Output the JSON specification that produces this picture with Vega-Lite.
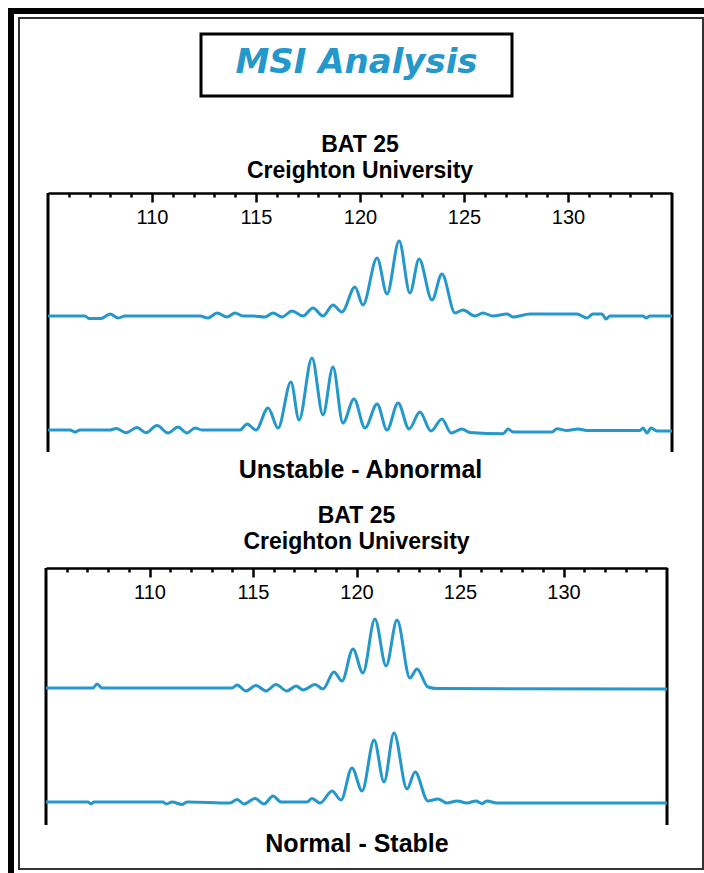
{
  "$schema": "https://vega.github.io/schema/vega-lite/v6.json",
  "background": "white",
  "padding": {"left": 8, "top": 8, "right": 0, "bottom": 0},
  "config": {"view": {"stroke": null}, "concat": {"spacing": 0}},
  "datasets": {
    "p1a": [
      {"bp":105.00,"signal":0},{"bp":106.63,"signal":0},{"bp":106.78,"signal":0},{"bp":106.97,"signal":-2.5},{"bp":107.55,"signal":-2.5},{"bp":107.98,"signal":2},{"bp":108.37,"signal":-2},{"bp":108.70,"signal":0},{"bp":112.31,"signal":0},{"bp":112.69,"signal":-2},{"bp":113.13,"signal":3},{"bp":113.61,"signal":-1},{"bp":113.99,"signal":3},{"bp":114.38,"signal":0},{"bp":114.86,"signal":0},{"bp":115.43,"signal":-1},{"bp":115.82,"signal":3},{"bp":116.25,"signal":-1},{"bp":116.73,"signal":5},{"bp":117.26,"signal":0},{"bp":117.74,"signal":8},{"bp":118.22,"signal":0},{"bp":118.70,"signal":11},{"bp":119.13,"signal":4},{"bp":119.76,"signal":29},{"bp":120.14,"signal":11},{"bp":120.82,"signal":58},{"bp":121.30,"signal":22},{"bp":121.88,"signal":75},{"bp":122.40,"signal":23},{"bp":122.84,"signal":57},{"bp":123.46,"signal":16},{"bp":123.94,"signal":42},{"bp":124.57,"signal":3},{"bp":124.95,"signal":6},{"bp":125.53,"signal":0},{"bp":125.91,"signal":3},{"bp":126.39,"signal":0},{"bp":127.07,"signal":2},{"bp":127.36,"signal":-1},{"bp":128.17,"signal":2},{"bp":130.43,"signal":2},{"bp":130.91,"signal":-2},{"bp":131.20,"signal":2},{"bp":131.63,"signal":2},{"bp":131.83,"signal":-3},{"bp":132.02,"signal":0},{"bp":133.61,"signal":0},{"bp":133.75,"signal":-2},{"bp":133.94,"signal":0},{"bp":135.00,"signal":0}
    ],
    "p1b": [
      {"bp":105.00,"signal":0},{"bp":106.06,"signal":0},{"bp":106.30,"signal":-2},{"bp":106.54,"signal":0},{"bp":107.98,"signal":0},{"bp":108.27,"signal":1.5},{"bp":108.75,"signal":-2.7},{"bp":109.28,"signal":2.5},{"bp":109.71,"signal":-2.7},{"bp":110.24,"signal":4.5},{"bp":110.77,"signal":-3},{"bp":111.25,"signal":3},{"bp":111.68,"signal":-3},{"bp":112.07,"signal":2},{"bp":112.40,"signal":0},{"bp":114.23,"signal":0},{"bp":114.57,"signal":6},{"bp":115.00,"signal":0},{"bp":115.58,"signal":22},{"bp":116.06,"signal":2},{"bp":116.68,"signal":48},{"bp":117.07,"signal":10},{"bp":117.69,"signal":72},{"bp":118.22,"signal":15},{"bp":118.70,"signal":63},{"bp":119.18,"signal":7},{"bp":119.71,"signal":31},{"bp":120.24,"signal":2},{"bp":120.82,"signal":26},{"bp":121.30,"signal":0},{"bp":121.83,"signal":27},{"bp":122.36,"signal":1},{"bp":122.88,"signal":18},{"bp":123.41,"signal":-1},{"bp":123.94,"signal":11},{"bp":124.38,"signal":-3},{"bp":124.90,"signal":1},{"bp":125.29,"signal":-2.5},{"bp":126.88,"signal":-3.7},{"bp":127.12,"signal":1},{"bp":127.36,"signal":-2},{"bp":129.23,"signal":-2},{"bp":129.47,"signal":1.3},{"bp":129.95,"signal":-0.5},{"bp":130.48,"signal":1},{"bp":130.91,"signal":-0.5},{"bp":133.46,"signal":-0.5},{"bp":133.61,"signal":2},{"bp":133.80,"signal":-3},{"bp":133.99,"signal":2},{"bp":134.28,"signal":-1},{"bp":135.00,"signal":-1}
    ],
    "p2a": [
      {"bp":105.00,"signal":0},{"bp":107.27,"signal":0},{"bp":107.46,"signal":4},{"bp":107.71,"signal":0},{"bp":113.99,"signal":0},{"bp":114.23,"signal":3},{"bp":114.66,"signal":-3},{"bp":115.14,"signal":2.5},{"bp":115.63,"signal":-3},{"bp":116.11,"signal":3.5},{"bp":116.64,"signal":-3},{"bp":117.08,"signal":2},{"bp":117.42,"signal":-2},{"bp":118.00,"signal":3.5},{"bp":118.38,"signal":-1},{"bp":118.91,"signal":16},{"bp":119.30,"signal":7},{"bp":119.83,"signal":39},{"bp":120.31,"signal":15},{"bp":120.89,"signal":69},{"bp":121.43,"signal":22},{"bp":121.96,"signal":68},{"bp":122.58,"signal":10},{"bp":122.92,"signal":19},{"bp":123.45,"signal":1},{"bp":123.89,"signal":-0.5},{"bp":135.00,"signal":-1}
    ],
    "p2b": [
      {"bp":105.00,"signal":0},{"bp":107.03,"signal":0},{"bp":107.17,"signal":-2},{"bp":107.32,"signal":0},{"bp":110.65,"signal":0},{"bp":110.80,"signal":-2},{"bp":111.09,"signal":0},{"bp":111.57,"signal":-2.5},{"bp":111.81,"signal":0},{"bp":113.89,"signal":-1},{"bp":114.23,"signal":2.5},{"bp":114.57,"signal":-2},{"bp":115.10,"signal":3.5},{"bp":115.53,"signal":-2},{"bp":115.97,"signal":6},{"bp":116.35,"signal":0},{"bp":117.61,"signal":0},{"bp":117.85,"signal":3.5},{"bp":118.24,"signal":-1},{"bp":118.82,"signal":11},{"bp":119.25,"signal":2},{"bp":119.78,"signal":34},{"bp":120.27,"signal":11},{"bp":120.85,"signal":62},{"bp":121.33,"signal":20},{"bp":121.81,"signal":69},{"bp":122.44,"signal":13},{"bp":122.83,"signal":30},{"bp":123.45,"signal":1},{"bp":123.94,"signal":3},{"bp":124.37,"signal":-1},{"bp":124.86,"signal":1},{"bp":125.34,"signal":-1},{"bp":125.77,"signal":1},{"bp":126.06,"signal":-1.5},{"bp":126.30,"signal":1},{"bp":126.78,"signal":-1},{"bp":134.90,"signal":-1},{"bp":135.00,"signal":-1}
    ],
    "edges": [{"bp":105},{"bp":135}]
  },
  "hconcat": [
    {"width": 6, "height": 865, "data": {"values": [{}]}, "mark": {"type": "rect", "color": "black"}, "encoding": {}},
    {
      "vconcat": [
        {"width": 690, "height": 6, "data": {"values": [{}]}, "mark": {"type": "rect", "color": "black"}, "encoding": {}},
        {
          "hconcat": [
            {"width": 4, "height": 1, "data": {"values": [{}]}, "mark": {"type": "rect", "opacity": 0}, "encoding": {}},
            {
              "vconcat": [
                {"width": 686, "height": 2, "data": {"values": [{}]}, "mark": {"type": "rect", "color": "#333333"}, "encoding": {}},
                {
                  "hconcat": [
                    {"width": 2, "height": 849, "data": {"values": [{}]}, "mark": {"type": "rect", "color": "#333333"}, "encoding": {}},
                    {
                      "vconcat": [
                        {"width": 673, "height": 15, "data": {"values": [{}]}, "mark": {"type": "rect", "opacity": 0}, "encoding": {}},
                        {
                          "width": 311, "height": 62,
                          "view": {"stroke": "black", "strokeWidth": 3},
                          "data": {"values": [{"t": "MSI Analysis"}]},
                          "mark": {"type": "text", "font": "DejaVu Sans", "fontSize": 34, "fontWeight": "bold", "fontStyle": "italic", "color": "#2497cb", "align": "center", "baseline": "middle", "dy": -2},
                          "encoding": {"text": {"field": "t", "type": "nominal"}}
                        },
                        {"width": 673, "height": 97, "data": {"values": [{}]}, "mark": {"type": "rect", "opacity": 0}, "encoding": {}},
                        {
                          "width": 673, "height": 259,
                          "title": {"text": ["BAT 25", "Creighton University"], "font": "Liberation Sans", "fontSize": 23, "fontWeight": "bold", "color": "black", "lineHeight": 26, "offset": 9, "anchor": "middle", "dx": 3.5},
                          "layer": [
                            {
                              "data": {"name": "edges"},
                              "mark": {"type": "rule", "color": "black", "strokeWidth": 3},
                              "encoding": {
                                "x": {"field": "bp", "type": "quantitative",
                                  "scale": {"domain": [105, 135], "range": [28, 652], "nice": false, "zero": false},
                                  "axis": {"orient": "top", "title": null, "grid": false,
                                    "values": [106,107,108,109,110,111,112,113,114,115,116,117,118,119,120,121,122,123,124,125,126,127,128,129,130,131,132,133,134],
                                    "labelExpr": "datum.value % 5 === 0 ? datum.label : ''",
                                    "tickSize": {"condition": {"test": "datum.value % 5 === 0", "value": -9}, "value": -4},
                                    "tickWidth": 2.5, "tickColor": "black",
                                    "domainColor": "black", "domainWidth": 2.5,
                                    "labelFont": "Liberation Sans", "labelFontSize": 20, "labelColor": "black",
                                    "labelPadding": -21, "labelBaseline": "alphabetic", "labelOverlap": false, "labelFlush": false}
                                }
                              }
                            },
                            {
                              "data": {"name": "p1a"},
                              "mark": {"type": "line", "interpolate": "monotone", "color": "#2497cb", "strokeWidth": 3},
                              "encoding": {
                                "x": {"field": "bp", "type": "quantitative", "axis": null},
                                "y": {"field": "signal", "type": "quantitative", "scale": {"domain": [-136, 123], "nice": false, "zero": false}, "axis": null}
                              }
                            },
                            {
                              "data": {"name": "p1b"},
                              "mark": {"type": "line", "interpolate": "monotone", "color": "#2497cb", "strokeWidth": 3},
                              "encoding": {
                                "x": {"field": "bp", "type": "quantitative",
                                  "axis": {"orient": "bottom", "domain": false, "ticks": false, "labels": false, "grid": false,
                                    "title": "Unstable - Abnormal", "titleFont": "Liberation Sans", "titleFontSize": 25, "titleFontWeight": "bold", "titleColor": "black", "titlePadding": 5}},
                                "y": {"field": "signal", "type": "quantitative", "scale": {"domain": [-22, 237], "nice": false, "zero": false}, "axis": null}
                              }
                            }
                          ],
                          "resolve": {"scale": {"y": "independent"}, "axis": {"x": "independent"}}
                        },
                        {"width": 673, "height": 116, "data": {"values": [{}]}, "mark": {"type": "rect", "opacity": 0}, "encoding": {}},
                        {
                          "width": 673, "height": 257,
                          "title": {"text": ["BAT 25", "Creighton University"], "font": "Liberation Sans", "fontSize": 23, "fontWeight": "bold", "color": "black", "lineHeight": 26, "offset": 12.5, "anchor": "middle"},
                          "layer": [
                            {
                              "data": {"name": "edges"},
                              "mark": {"type": "rule", "color": "black", "strokeWidth": 3},
                              "encoding": {
                                "x": {"field": "bp", "type": "quantitative",
                                  "scale": {"domain": [105, 135], "range": [26, 647], "nice": false, "zero": false},
                                  "axis": {"orient": "top", "title": null, "grid": false,
                                    "values": [106,107,108,109,110,111,112,113,114,115,116,117,118,119,120,121,122,123,124,125,126,127,128,129,130,131,132,133,134],
                                    "labelExpr": "datum.value % 5 === 0 ? datum.label : ''",
                                    "tickSize": {"condition": {"test": "datum.value % 5 === 0", "value": -9}, "value": -4},
                                    "tickWidth": 2.5, "tickColor": "black",
                                    "domainColor": "black", "domainWidth": 2.5,
                                    "labelFont": "Liberation Sans", "labelFontSize": 20, "labelColor": "black",
                                    "labelPadding": -21, "labelBaseline": "alphabetic", "labelOverlap": false, "labelFlush": false}
                                }
                              }
                            },
                            {
                              "data": {"name": "p2a"},
                              "mark": {"type": "line", "interpolate": "monotone", "color": "#2497cb", "strokeWidth": 3},
                              "encoding": {
                                "x": {"field": "bp", "type": "quantitative", "axis": null},
                                "y": {"field": "signal", "type": "quantitative", "scale": {"domain": [-137, 120], "nice": false, "zero": false}, "axis": null}
                              }
                            },
                            {
                              "data": {"name": "p2b"},
                              "mark": {"type": "line", "interpolate": "monotone", "color": "#2497cb", "strokeWidth": 3},
                              "encoding": {
                                "x": {"field": "bp", "type": "quantitative",
                                  "axis": {"orient": "bottom", "domain": false, "ticks": false, "labels": false, "grid": false,
                                    "title": "Normal - Stable", "titleFont": "Liberation Sans", "titleFontSize": 25, "titleFontWeight": "bold", "titleColor": "black", "titlePadding": 6}},
                                "y": {"field": "signal", "type": "quantitative", "scale": {"domain": [-23, 234], "nice": false, "zero": false}, "axis": null}
                              }
                            }
                          ],
                          "resolve": {"scale": {"y": "independent"}, "axis": {"x": "independent"}}
                        },
                        {"width": 673, "height": 43, "data": {"values": [{}]}, "mark": {"type": "rect", "opacity": 0}, "encoding": {}}
                      ],
                      "spacing": 0, "bounds": "flush", "center": true
                    },
                    {"width": 9, "height": 1, "data": {"values": [{}]}, "mark": {"type": "rect", "opacity": 0}, "encoding": {}},
                    {"width": 2, "height": 849, "data": {"values": [{}]}, "mark": {"type": "rect", "color": "#333333"}, "encoding": {}}
                  ],
                  "spacing": 0
                },
                {"width": 686, "height": 2, "data": {"values": [{}]}, "mark": {"type": "rect", "color": "#333333"}, "encoding": {}}
              ],
              "spacing": 0
            }
          ],
          "spacing": 0
        }
      ],
      "spacing": 3
    }
  ],
  "spacing": 0
}
